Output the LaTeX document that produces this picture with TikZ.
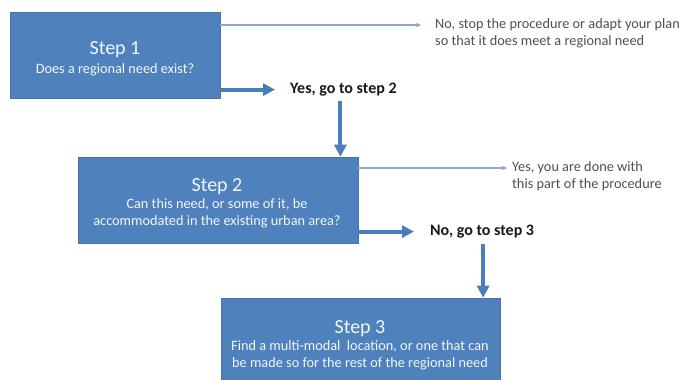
\documentclass[tikz,border=0pt]{standalone}
\usepackage{fontspec}
\setmainfont{Carlito}
\usetikzlibrary{arrows.meta,calc}
\definecolor{boxblue}{HTML}{4F81BD}
\definecolor{boxedge}{HTML}{4673AA}
\definecolor{arrowblue}{HTML}{4A7EBB}
\definecolor{thinblue}{HTML}{8CA8CF}
\definecolor{notegray}{HTML}{505050}
\definecolor{boxtext}{HTML}{F3F6FB}
\tikzset{
  stepbox/.style={draw=boxedge, line width=0.6pt, fill=boxblue, inner sep=0pt},
  titletext/.style={text=boxtext, font=\fontsize{20}{24}\selectfont, inner sep=0pt, anchor=base},
  bodytext/.style={text=boxtext, font=\fontsize{14.3}{17}\selectfont, align=center, inner sep=0pt, anchor=base},
  notetext/.style={text=notegray, font=\fontsize{14.3}{17}\selectfont, align=left, inner sep=0pt, anchor=base west},
  answertext/.style={text=black!90, font=\bfseries\fontsize{16}{19}\selectfont, inner sep=0pt, anchor=base west},
  thickarrow/.style={draw=arrowblue, line width=4pt, -{Triangle[length=12pt,width=12pt]}},
  thinarrow/.style={draw=thinblue, line width=1.3pt, -{Stealth[length=5pt,width=4.5pt]}}
}
\begin{document}
\begin{tikzpicture}[x=1pt,y=-1pt]
\useasboundingbox (0,0) rectangle (680,380);
\fill[white] (0,0) rectangle (680,380);

% boxes
\node[stepbox, minimum width=210pt, minimum height=86pt] (b1) at (115,55) {};
\node[stepbox, minimum width=280pt, minimum height=86pt] (b2) at (218,200) {};
\node[stepbox, minimum width=279pt, minimum height=92pt] (b3) at (360.5,344) {};

% box texts (multi-line nodes: base = baseline of last line)
\node[titletext] (s1) at (115,54.5) {Step 1};
\node[bodytext]  (d1) at (115,73) {Does a regional need exist?};
\node[titletext] (s2) at (217,191.5) {Step 2};
\node[bodytext]  (d2) at (217,225.5) {Can this need, or some of it, be\\accommodated in the existing urban area?};
\node[titletext] (s3) at (360,333.5) {Step 3};
\node[bodytext]  (d3) at (360,367.5) {Find a multi-modal~ location, or one that can\\be made so for the rest of the regional need};

% outcome texts
\node[notetext] (n1) at (435,45.5) {No, stop the procedure or adapt your plan\\so that it does meet a regional need};
\node[answertext] (yes) at (290,93.5) {Yes, go to step 2};
\node[notetext] (n2) at (512,188) {Yes, you are done with\\this part of the procedure};
\node[answertext] (no3) at (430,235.5) {No, go to step 3};

\coordinate (t1) at (421,25);
\coordinate (t2) at (507,168);

% connectors
\draw[thinarrow] (b1.east |- t1) -- (t1);
\draw[thickarrow, shorten >=15pt] (b1.east |- yes.west) -- (yes.west);
\draw[thickarrow] ([xshift=-3pt,yshift=-5pt]yes.south) -- ([xshift=-3pt]yes.south |- b2.north);
\draw[thinarrow] (b2.east |- t2) -- (t2);
\draw[thickarrow, shorten >=16pt] (b2.east |- no3.west) -- (no3.west);
\draw[thickarrow] ([xshift=1pt,yshift=-6pt]no3.south) -- ([xshift=1pt]no3.south |- b3.north);
\end{tikzpicture}
\end{document}
